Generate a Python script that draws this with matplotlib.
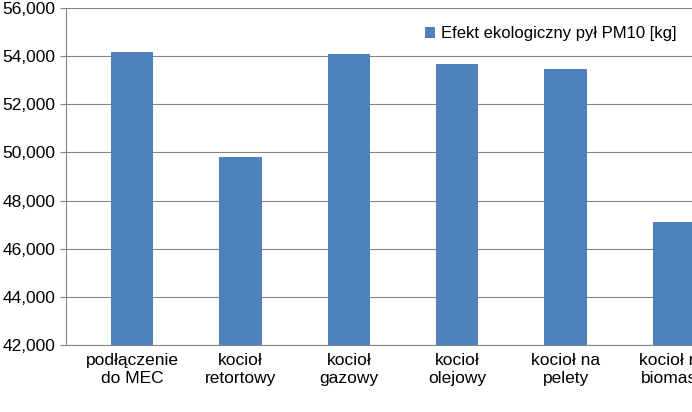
import matplotlib
matplotlib.use("Agg")
import matplotlib.pyplot as plt
from matplotlib.ticker import FuncFormatter

categories = ["podłączenie\ndo MEC", "kocioł\nretortowy", "kocioł\ngazowy", "kocioł\nolejowy", "kocioł na\npelety", "kocioł na\nbiomasę"]
values = [54170, 49810, 54090, 53670, 53470, 47110]
series_name = "Efekt ekologiczny pył PM10 [kg]"

plt.rcParams["font.family"] = "Liberation Sans"
fig = plt.figure(figsize=(6.92, 4.12), dpi=100)
ax = fig.add_axes([66/692, 1-345/412, 626/692, 337/412])
x = range(len(categories))
ax.bar(x, values, width=0.39, color="#4F81BD", label=series_name, zorder=3)
ax.set_ylim(42000, 56000)
ax.set_yticks(range(42000, 56001, 2000))
ax.yaxis.set_major_formatter(FuncFormatter(lambda v, p: f"{int(v):,}"))
ax.set_xlim(-0.609, 5.166)
ax.set_xticks(list(x))
ax.set_xticklabels(categories, fontsize=12.5)
ax.tick_params(axis="y", labelsize=12.5, length=4, color="#868686")
ax.tick_params(axis="x", length=0, pad=6)
ax.grid(axis="y", color="#868686", linewidth=0.8, zorder=0)
for s in ["top", "right"]:
    ax.spines[s].set_visible(False)
for s in ["left", "bottom"]:
    ax.spines[s].set_color("#868686")
ax.legend(loc="upper right", bbox_to_anchor=(1.0, 0.99), frameon=False, fontsize=12,
          handlelength=0.6, handleheight=0.6, handletextpad=0.4)
fig.savefig("out.png", dpi=100)
